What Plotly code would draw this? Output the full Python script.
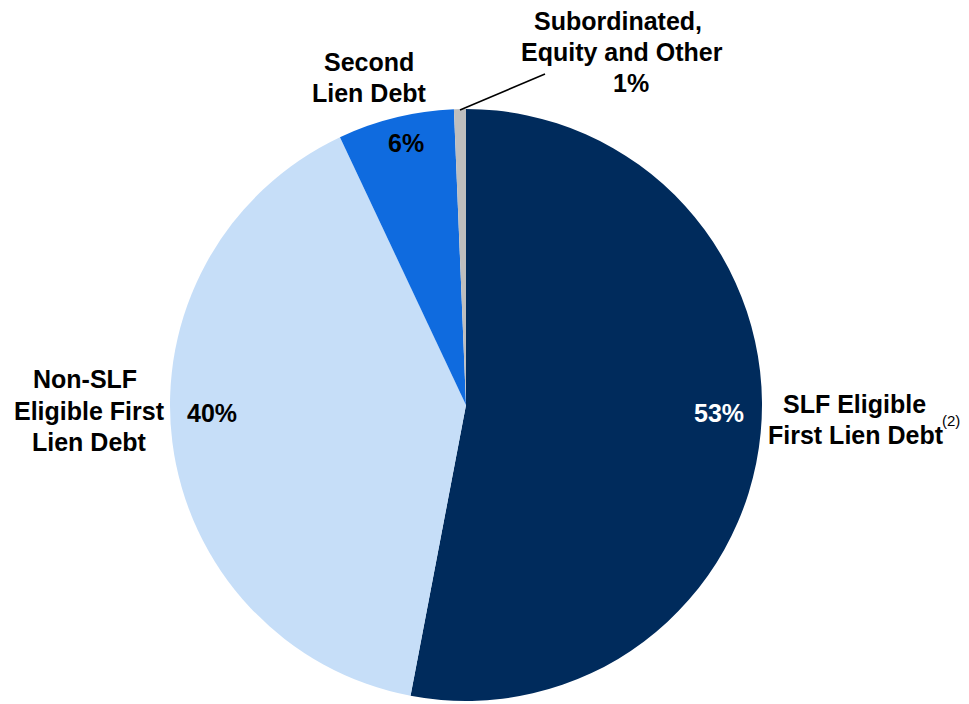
import plotly.graph_objects as go

categories = ["SLF Eligible First Lien Debt", "Non-SLF Eligible First Lien Debt",
              "Second Lien Debt", "Subordinated, Equity and Other"]
values = [53.0, 40.0, 6.35, 0.65]
colors = ["#002B5C", "#C6DEF8", "#0F6BDF", "#BEBEBE"]

OFF = 8  # page body margin offset
W, H = 969 - OFF, 704 - OFF
total = sum(values)
pct = [f"{round(v / total * 100)}%" for v in values]


def fx(px):
    return (px - OFF) / W


def fy(py):
    return 1 - (py - OFF) / H


fig = go.Figure(go.Pie(
    labels=categories, values=values, sort=False, direction="clockwise", rotation=0,
    marker=dict(colors=colors, line=dict(width=0)),
    textinfo="none", hoverinfo="label+percent", showlegend=False,
    domain=dict(x=[fx(170), fx(762)], y=[max(0, fy(701)), fy(109)]),
))

FONT = "Liberation Sans, Arial, sans-serif"


def ann(text, px, py, color="black", size=25, bold=True, xanchor="center"):
    fig.add_annotation(
        x=fx(px), y=fy(py), xref="paper", yref="paper",
        text=f"<b>{text}</b>" if bold else text, showarrow=False,
        xanchor=xanchor, yanchor="middle",
        font=dict(family=FONT, size=size, color=color),
    )


# category labels (one line per annotation)
ann("Subordinated,", 618, 21)
ann("Equity and Other", 622, 52)
ann(pct[3], 631, 83)

ann("Second", 369, 62)
ann("Lien Debt", 369, 93)
ann(pct[2], 406, 143)

ann(pct[0], 719, 413, color="white")
ann("SLF Eligible", 854, 404)
ann("First Lien Debt", 856, 435)
ann("(2)", 962, 420, size=15, bold=False, xanchor="right")

ann("Non-SLF", 85, 379)
ann("Eligible First", 89, 411)
ann("Lien Debt", 89, 442)
ann(pct[1], 212, 413)

fig.add_shape(type="line", xref="paper", yref="paper",
              x0=fx(460), y0=fy(110), x1=fx(545), y1=fy(74),
              line=dict(color="black", width=1.5))

fig.update_layout(
    width=W, height=H, margin=dict(l=0, r=0, t=0, b=0),
    paper_bgcolor="white", plot_bgcolor="white",
)

fig.write_html("out.html")
